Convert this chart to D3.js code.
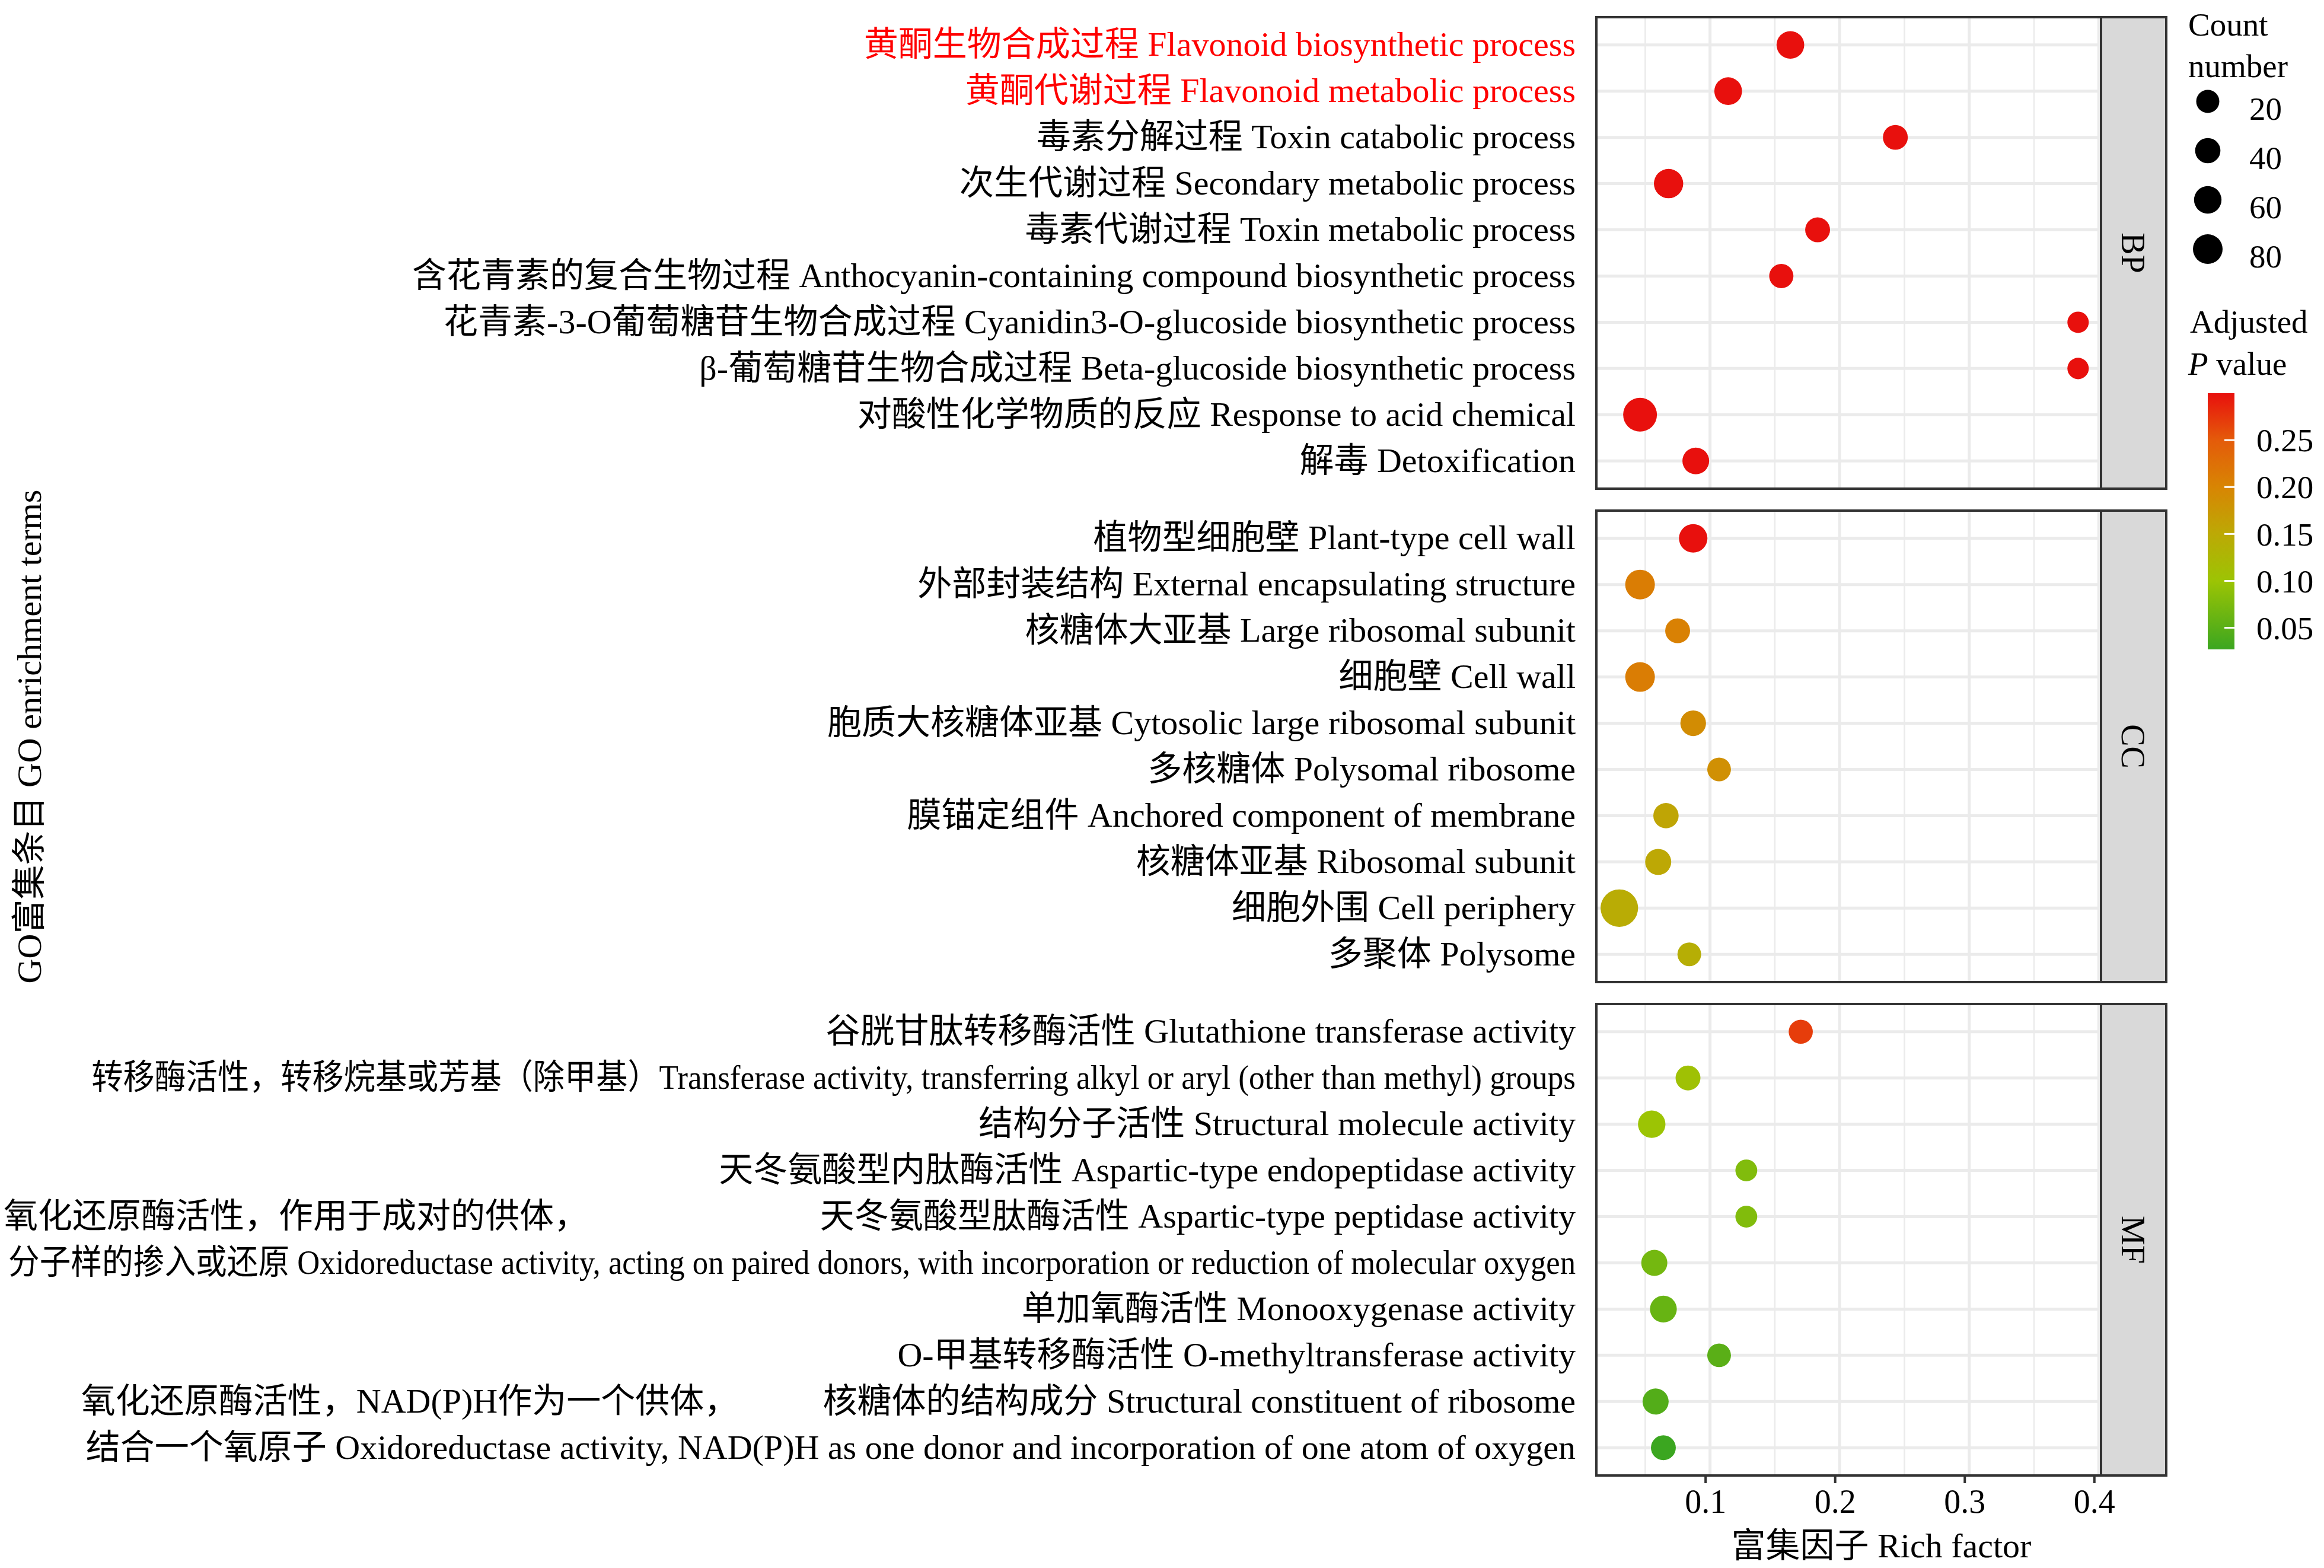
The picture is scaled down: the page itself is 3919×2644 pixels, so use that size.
<!DOCTYPE html>
<html>
<head>
<meta charset="utf-8">
<script src="https://cdn.jsdelivr.net/npm/d3@7"></script>
<style>
  body { margin: 0; background: #fff; }
  text { font-family: "Liberation Serif", "Times New Roman", "Noto Sans CJK SC", serif; }
</style>
</head>
<body>
<div id="wrapper"></div>
<script>
// ---- data ----
const ontologies = ["BP", "CC", "MF"]

const bpTerms = [
  "黄酮生物合成过程 Flavonoid biosynthetic process",
  "黄酮代谢过程 Flavonoid metabolic process",
  "毒素分解过程 Toxin catabolic process",
  "次生代谢过程 Secondary metabolic process",
  "毒素代谢过程 Toxin metabolic process",
  "含花青素的复合生物过程 Anthocyanin-containing compound biosynthetic process",
  "花青素-3-O葡萄糖苷生物合成过程 Cyanidin3-O-glucoside biosynthetic process",
  "β-葡萄糖苷生物合成过程 Beta-glucoside biosynthetic process",
  "对酸性化学物质的反应 Response to acid chemical",
  "解毒 Detoxification",
]
const bpRich = [0.162, 0.114, 0.243, 0.068, 0.183, 0.155, 0.384, 0.384, 0.046, 0.089]
const bpCount = [62, 62, 36, 77, 36, 30, 4, 4, 118, 53]
const bpPadj = [0.30, 0.30, 0.30, 0.30, 0.30, 0.30, 0.30, 0.30, 0.30, 0.30]

const ccTerms = [
  "植物型细胞壁 Plant-type cell wall",
  "外部封装结构 External encapsulating structure",
  "核糖体大亚基 Large ribosomal subunit",
  "细胞壁 Cell wall",
  "胞质大核糖体亚基 Cytosolic large ribosomal subunit",
  "多核糖体 Polysomal ribosome",
  "膜锚定组件 Anchored component of membrane",
  "核糖体亚基 Ribosomal subunit",
  "细胞外围 Cell periphery",
  "多聚体 Polysome",
]
const ccRich = [0.087, 0.046, 0.075, 0.046, 0.087, 0.107, 0.066, 0.060, 0.030, 0.084]
const ccCount = [69, 80, 36, 80, 43, 25, 40, 47, 152, 25]
const ccPadj = [0.30, 0.21, 0.205, 0.21, 0.19, 0.185, 0.155, 0.152, 0.145, 0.14]

const mfTerms = [
  "谷胱甘肽转移酶活性 Glutathione transferase activity",
  "转移酶活性，转移烷基或芳基（除甲基）Transferase activity, transferring alkyl or aryl (other than methyl) groups",
  "结构分子活性 Structural molecule activity",
  "天冬氨酸型内肽酶活性 Aspartic-type endopeptidase activity",
  "天冬氨酸型肽酶活性 Aspartic-type peptidase activity",
  "氧化还原酶活性，作用于成对的供体，\n分子样的掺入或还原 Oxidoreductase activity, acting on paired donors, with incorporation or reduction of molecular oxygen",
  "单加氧酶活性 Monooxygenase activity",
  "O-甲基转移酶活性 O-methyltransferase activity",
  "核糖体的结构成分 Structural constituent of ribosome",
  "氧化还原酶活性，NAD(P)H作为一个供体，\n结合一个氧原子 Oxidoreductase activity, NAD(P)H as one donor and incorporation of one atom of oxygen",
]
const mfRich = [0.170, 0.083, 0.055, 0.128, 0.128, 0.057, 0.064, 0.107, 0.058, 0.064]
const mfCount = [29, 36, 60, 8, 8, 47, 54, 25, 47, 36]
const mfPadj = [0.27, 0.105, 0.10, 0.08, 0.08, 0.07, 0.06, 0.05, 0.045, 0.027]

const highlightTerms = bpTerms.slice(0, 2)
const xTicks = [0.1, 0.2, 0.3, 0.4]
const xMinorTicks = [0.05, 0.15, 0.25, 0.35]
const sizeBreaks = [20, 40, 60, 80]
const padjBreaks = [0.05, 0.10, 0.15, 0.20, 0.25]
const padjStops = [0.027, 0.10, 0.15, 0.20, 0.25, 0.30]
const padjColors = ["#3BA620", "#9CC404", "#BCA905", "#D88503", "#E45B0A", "#E8100D"]

// ---- layout ----
const width = 3919
const height = 2644
const panelLeft = 2692
const panelRight = 3543
const stripRight = 3653
const panelTops = [29, 861, 1693]
const panelHeight = 795
const fontSize = 58
const gridColor = "#EBEBEB"
const darkLine = "#333333"

const groups = [
  { name: "BP", terms: bpTerms, rich: bpRich, count: bpCount, padj: bpPadj },
  { name: "CC", terms: ccTerms, rich: ccRich, count: ccCount, padj: ccPadj },
  { name: "MF", terms: mfTerms, rich: mfRich, count: mfCount, padj: mfPadj },
]

const svg = d3.select("#wrapper").append("svg")
  .attr("width", width)
  .attr("height", height)
  .style("display", "block")

// scales
const allRich = d3.merge(groups.map((g) => g.rich))
const [rMin, rMax] = d3.extent(allRich)
const pad = (rMax - rMin) * 0.05
const xScale = d3.scaleLinear()
  .domain([rMin - pad, rMax + pad])
  .range([panelLeft, panelRight])

const sizeScale = d3.scaleLinear().domain([20, 80]).range([19.5, 25])
const colorScale = d3.scaleLinear().domain(padjStops).range(padjColors)

const labelX = panelLeft - 35
const labelMaxWidth = labelX - 14
const condense = 0.917

// squeeze a label that would run off the left edge
const fitLabel = (sel) => {
  const w = sel.node().getComputedTextLength()
  if (w > labelMaxWidth) {
    const fitted = Math.min(w * condense, labelMaxWidth)
    sel.attr("textLength", fitted).attr("lengthAdjust", "spacingAndGlyphs")
    return fitted
  }
  return w
}

groups.forEach((g, gi) => {
  const top = panelTops[gi]
  const bottom = top + panelHeight
  const yScale = d3.scalePoint().domain(g.terms).range([top, bottom]).padding(0.6)
  const step = yScale.step()
  const panel = svg.append("g")

  panel.append("rect")
    .attr("x", panelLeft).attr("y", top)
    .attr("width", panelRight - panelLeft).attr("height", panelHeight)
    .attr("fill", "#fff")

  // grid
  panel.selectAll(".minor").data(xMinorTicks).join("line")
    .attr("x1", (d) => xScale(d)).attr("x2", (d) => xScale(d))
    .attr("y1", top).attr("y2", bottom)
    .attr("stroke", gridColor).attr("stroke-width", 2.5)
  panel.selectAll(".major").data(xTicks).join("line")
    .attr("x1", (d) => xScale(d)).attr("x2", (d) => xScale(d))
    .attr("y1", top).attr("y2", bottom)
    .attr("stroke", gridColor).attr("stroke-width", 5)
  panel.selectAll(".hgrid").data(g.terms).join("line")
    .attr("x1", panelLeft).attr("x2", panelRight)
    .attr("y1", (d) => yScale(d)).attr("y2", (d) => yScale(d))
    .attr("stroke", gridColor).attr("stroke-width", 5)

  // points
  panel.selectAll("circle").data(g.terms).join("circle")
    .attr("cx", (d, i) => xScale(g.rich[i]))
    .attr("cy", (d) => yScale(d))
    .attr("r", (d, i) => sizeScale(g.count[i]))
    .attr("fill", (d, i) => colorScale(g.padj[i]))

  // border
  panel.append("rect")
    .attr("x", panelLeft).attr("y", top)
    .attr("width", panelRight - panelLeft).attr("height", panelHeight)
    .attr("fill", "none").attr("stroke", darkLine).attr("stroke-width", 4)

  // strip
  panel.append("rect")
    .attr("x", panelRight).attr("y", top)
    .attr("width", stripRight - panelRight).attr("height", panelHeight)
    .attr("fill", "#D9D9D9").attr("stroke", darkLine).attr("stroke-width", 4)
  panel.append("text")
    .attr("transform", `translate(${(panelRight + stripRight) / 2},${top + panelHeight / 2}) rotate(90)`)
    .attr("text-anchor", "middle")
    .attr("dy", "0.35em")
    .style("font-size", "56px")
    .text(g.name)

  // term labels
  g.terms.forEach((term) => {
    const lines = term.split("\n")
    const y = yScale(term)
    const fill = highlightTerms.includes(term) ? "#FF0000" : "#000"
    const last = panel.append("text")
      .attr("x", labelX).attr("y", y).attr("dy", "0.32em")
      .attr("text-anchor", "end")
      .attr("fill", fill)
      .style("font-size", `${fontSize}px`)
      .text(lines[lines.length - 1])
    const w = fitLabel(last)
    if (lines.length > 1) {
      panel.append("text")
        .attr("x", Math.max(2, labelX - w - 8)).attr("y", y - step).attr("dy", "0.32em")
        .attr("text-anchor", "start")
        .attr("fill", fill)
        .style("font-size", `${fontSize}px`)
        .text(lines[0])
    }
  })
})

// x axis
const axisY = panelTops[2] + panelHeight
const xAxis = svg.append("g")
  .attr("transform", `translate(-8,${axisY})`)
  .call(d3.axisBottom(xScale).tickValues(xTicks).tickFormat(d3.format(".1f")).tickSize(13).tickPadding(10))
xAxis.select(".domain").remove()
xAxis.selectAll(".tick line").attr("stroke", darkLine).attr("stroke-width", 4)
xAxis.selectAll(".tick text")
  .attr("fill", "#000")
  .style("font-size", "56px")
  .style("font-family", "'Liberation Serif', 'Times New Roman', serif")

svg.append("text")
  .attr("x", (panelLeft + stripRight) / 2)
  .attr("y", 2606).attr("dy", "0.35em")
  .attr("text-anchor", "middle")
  .style("font-size", `${fontSize}px`)
  .text("富集因子 Rich factor")

svg.append("text")
  .attr("transform", `translate(49,1242) rotate(-90)`)
  .attr("text-anchor", "middle")
  .attr("dy", "0.35em")
  .style("font-size", `${fontSize}px`)
  .text("GO富集条目 GO enrichment terms")

// ---- legends ----
const legendX = 3690
const legend = svg.append("g")
legend.append("text").attr("x", legendX).attr("y", 60)
  .style("font-size", "55px").text("Count")
legend.append("text").attr("x", legendX).attr("y", 130)
  .style("font-size", "55px").text("number")

const keyY = d3.scalePoint().domain(sizeBreaks).range([171, 420])
legend.selectAll(".sizeKey").data(sizeBreaks).join("circle")
  .attr("cx", 3723)
  .attr("cy", (d) => keyY(d))
  .attr("r", (d) => sizeScale(d))
  .attr("fill", "#000")
legend.selectAll(".sizeLabel").data(sizeBreaks).join("text")
  .attr("x", 3793)
  .attr("y", (d) => keyY(d) + 12)
  .attr("dy", "0.35em")
  .style("font-size", "55px")
  .text((d) => d)

legend.append("text").attr("x", legendX + 3).attr("y", 561)
  .style("font-size", "55px").text("Adjusted")
const pv = legend.append("text").attr("x", legendX).attr("y", 632)
  .style("font-size", "55px")
pv.append("tspan").style("font-style", "italic").text("P")
pv.append("tspan").text(" value")

const barX = 3723
const barW = 45
const barScale = d3.scaleLinear().domain(d3.extent(padjStops)).range([1095, 663])
const grad = svg.append("defs").append("linearGradient")
  .attr("id", "padjGrad")
  .attr("x1", 0).attr("x2", 0).attr("y1", 1).attr("y2", 0)
grad.selectAll("stop").data(padjStops).join("stop")
  .attr("offset", (d) => (d - padjStops[0]) / (padjStops[padjStops.length - 1] - padjStops[0]))
  .attr("stop-color", (d) => colorScale(d))
legend.append("rect")
  .attr("x", barX).attr("y", barScale.range()[1])
  .attr("width", barW).attr("height", barScale.range()[0] - barScale.range()[1])
  .attr("fill", "url(#padjGrad)")
legend.selectAll(".barTick").data(padjBreaks).join("line")
  .attr("x1", barX + barW - 17).attr("x2", barX + barW)
  .attr("y1", (d) => barScale(d)).attr("y2", (d) => barScale(d))
  .attr("stroke", "#fff").attr("stroke-width", 3)
legend.selectAll(".barLabel").data(padjBreaks).join("text")
  .attr("x", 3805)
  .attr("y", (d) => barScale(d))
  .attr("dy", "0.35em")
  .style("font-size", "55px")
  .text(d3.format(".2f"))
</script>
</body>
</html>
